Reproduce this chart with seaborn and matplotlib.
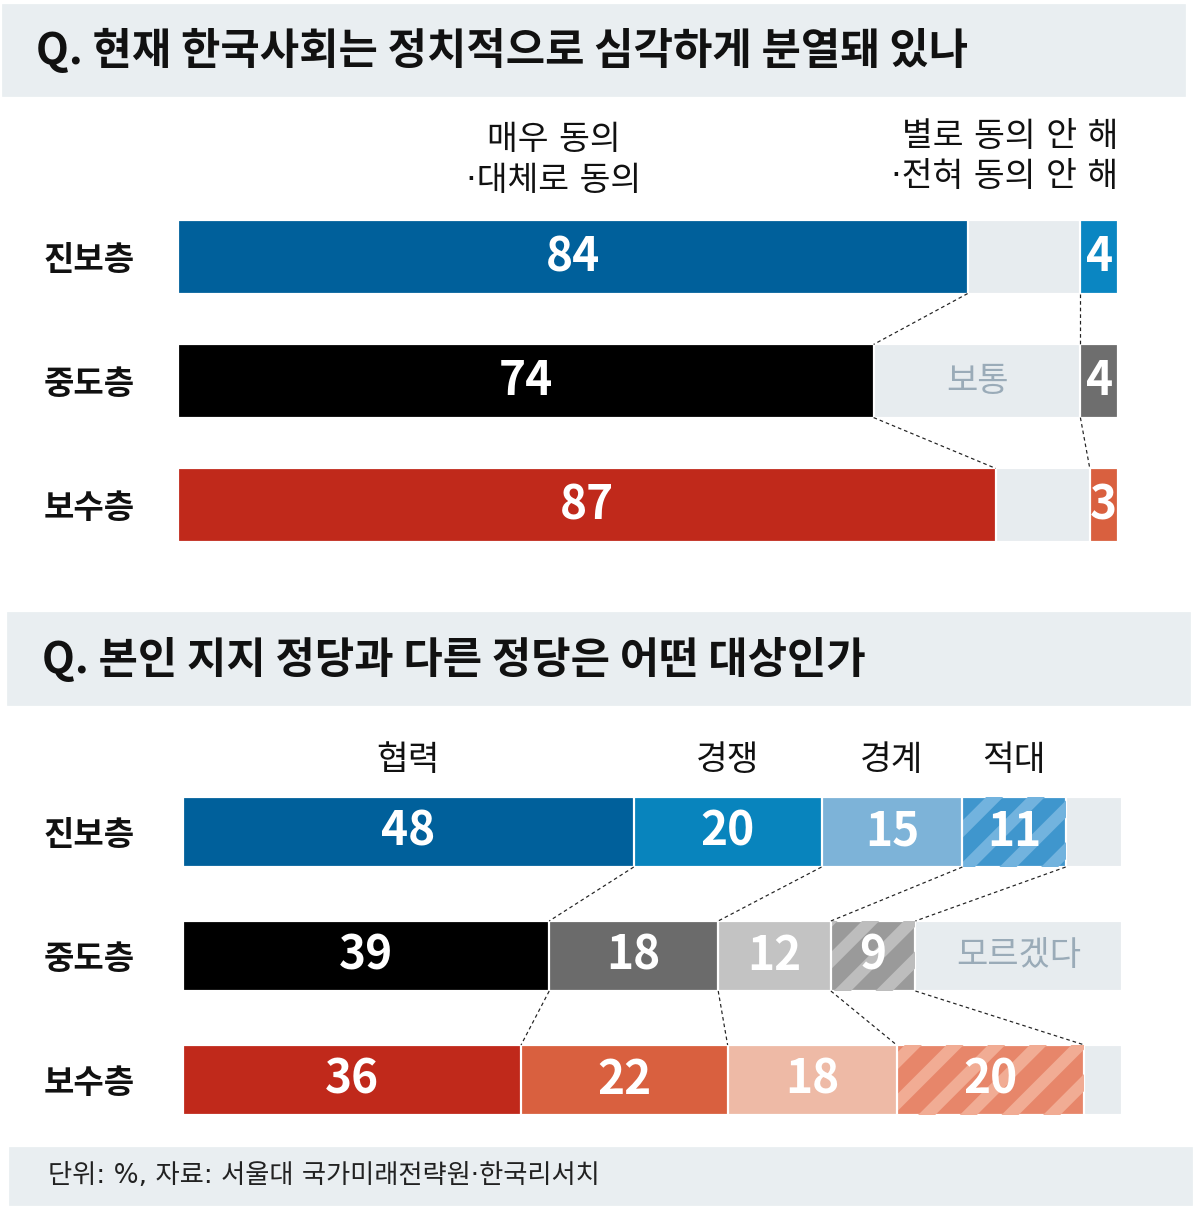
import numpy as np
import pandas as pd
import seaborn as sns
import matplotlib
matplotlib.use('Agg')
import matplotlib.pyplot as plt
from matplotlib.patches import Rectangle

# Data
groups = ['진보층', '중도층', '보수층']

# Q1: 현재 한국사회는 정치적으로 심각하게 분열돼 있나
q1_agree = [84, 74, 87]
q1_neutral = [12, 22, 10]
q1_disagree = [4, 4, 3]

# Q2: 본인 지지 정당과 다른 정당은 어떤 대상인가
q2_coop = [48, 39, 36]
q2_compete = [20, 18, 22]
q2_wary = [15, 12, 18]
q2_enemy = [11, 9, 20]
q2_unknown = [6, 22, 4]

q2_headers = ['협력', '경쟁', '경계', '적대']

# Style
DPI = 125
W, H = 1194, 1208
def pt(px):
    return px * 72 / DPI

sns.set_theme(style='white')
plt.rcParams['font.family'] = ['Noto Sans CJK KR', 'DejaVu Sans']
plt.rcParams['hatch.linewidth'] = 7
DOT_FONT = ['DejaVu Sans', 'Noto Sans CJK KR']  # narrow middle dot

GRAY = '#e7ecef'
blues = ['#00609b', '#0884bd', '#7db3d8', '#3f96cd']
blacks = ['#000000', '#6b6b6b', '#c3c3c3', '#9a9a9a']
reds = ['#c0291b', '#d9603f', '#eebaa6', '#e7866a']
stripes = ['#72b3de', '#bdbdbd', '#f1ac94']

fig = plt.figure(figsize=(W / DPI, H / DPI), dpi=DPI)
fig.patch.set_facecolor('white')


def band(x0, y0, x1, y1):
    fig.patches.append(Rectangle((x0 / W, 1 - y1 / H), (x1 - x0) / W, (y1 - y0) / H,
                                 transform=fig.transFigure, color='#e9eef1', zorder=0))


def fig_text(x, y, s, **kw):
    fig.text(x / W, 1 - y / H, s, **kw)


def stacked(ax, segs, colors, hatched, height):
    ends = np.cumsum(np.array(segs), axis=0)
    for j in reversed(range(len(segs))):
        pal = dict(zip(groups, colors[j]))
        kw = dict(x=ends[j], y=groups, hue=groups, palette=pal, orient='h', width=height,
                  saturation=1, errorbar=None, legend=False, ax=ax)
        sns.barplot(edgecolor='white', linewidth=pt(2.2), **kw)
        if hatched[j]:
            n0 = len(ax.patches)
            sns.barplot(**kw)
            for p, c in zip(ax.patches[n0:], stripes):
                p.set_facecolor('none')
                p.set_edgecolor(c)
                p.set_linewidth(0)
                p.set_hatch('/')
    return ends


def connectors(ax, ends, height, nb):
    for i in range(len(groups) - 1):
        for k in range(nb):
            ax.plot([ends[k][i], ends[k][i + 1]], [i + height / 2, i + 1 - height / 2],
                    color='#222222', lw=pt(1.2), ls=(0, (3, 2.5)), zorder=5)


def style_axes(ax, pad):
    ax.set_xlim(0, 100)
    ax.set_ylim(2.5, -0.5)
    ax.set_xticks([])
    ax.set_xlabel('')
    ax.set_ylabel('')
    ax.tick_params(axis='y', length=0, pad=pt(pad))
    for lab in ax.get_yticklabels():
        lab.set_fontsize(pt(33))
        lab.set_fontweight('bold')
        lab.set_color('#111111')
    sns.despine(ax=ax, left=True, bottom=True)
    ax.set_facecolor('none')


# Title bands
band(3, 5, 1185, 96)
band(8, 613, 1190, 705)
band(10, 1148, 1192, 1205)
fig_text(36, 50, 'Q. 현재 한국사회는 정치적으로 심각하게 분열돼 있나', fontsize=pt(42.8),
         fontweight='bold', va='center', color='#111111')
fig_text(42, 660, 'Q. 본인 지지 정당과 다른 정당은 어떤 대상인가', fontsize=pt(42.8),
         fontweight='bold', va='center', color='#111111')
fig_text(48, 1176, '단위: %, 자료: 서울대 국가미래전략원·한국리서치', fontsize=pt(26.3),
         va='center', color='#222222', family=DOT_FONT)

# Top chart
ax1 = fig.add_axes([178 / W, 1 - 567 / H, 940 / W, 372 / H])
h1 = 0.59
top_colors = [
    [blues[0], blacks[0], reds[0]],
    [GRAY, GRAY, GRAY],
    ['#0a86c2', '#6e6e6e', '#d9603f'],
]
ends1 = stacked(ax1, [q1_agree, q1_neutral, q1_disagree], top_colors, [False] * 3, h1)
connectors(ax1, ends1, h1, 2)
style_axes(ax1, 43)

for i in range(3):
    ax1.text(q1_agree[i] / 2, i, str(q1_agree[i]), ha='center', va='center',
             color='white', fontsize=pt(46), fontweight='bold')
    ax1.text(ends1[2][i] - q1_disagree[i] / 2, i, str(q1_disagree[i]), ha='center',
             va='center', color='white', fontsize=pt(46), fontweight='bold')
ax1.text(ends1[1][1] - q1_neutral[1] / 2, 1, '보통', ha='center', va='center',
         color='#9aabb8', fontsize=pt(34))
ax1.text(40, -0.78, '매우 동의\n·대체로 동의', ha='center', va='center', ma='center',
         fontsize=pt(33.5), color='#111111', linespacing=1.3, family=DOT_FONT)
ax1.text(100, -0.81, '별로 동의 안 해\n·전혀 동의 안 해', ha='right', va='center', ma='right',
         fontsize=pt(33.5), color='#111111', linespacing=1.3, family=DOT_FONT)

# Bottom chart
ax2 = fig.add_axes([183 / W, 1 - 1142 / H, 939 / W, 372 / H])
h2 = 0.565
bottom_colors = [
    [blues[0], blacks[0], reds[0]],
    [blues[1], blacks[1], reds[1]],
    [blues[2], blacks[2], reds[2]],
    [blues[3], blacks[3], reds[3]],
    [GRAY, GRAY, GRAY],
]
segs2 = [q2_coop, q2_compete, q2_wary, q2_enemy, q2_unknown]
ends2 = stacked(ax2, segs2, bottom_colors, [False, False, False, True, False], h2)
connectors(ax2, ends2, h2, 4)
style_axes(ax2, 48)

for j in range(4):
    for i in range(3):
        ax2.text(ends2[j][i] - segs2[j][i] / 2, i, str(segs2[j][i]), ha='center',
                 va='center', color='white', fontsize=pt(46), fontweight='bold', zorder=6)
    ax2.text(ends2[j][0] - segs2[j][0] / 2, -0.58, q2_headers[j], ha='center',
             va='center', fontsize=pt(34.5), color='#111111')
ax2.text(ends2[4][1] - q2_unknown[1] / 2, 1, '모르겠다', ha='center', va='center',
         color='#9aabb8', fontsize=pt(34))

fig.savefig('out.png', dpi=DPI)
